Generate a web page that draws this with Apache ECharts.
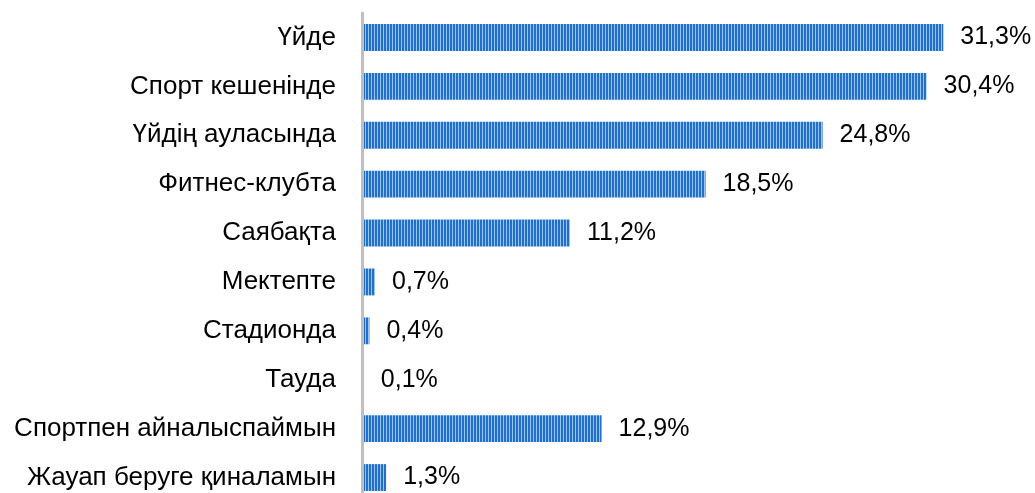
<!DOCTYPE html>
<html>
<head>
<meta charset="utf-8">
<script src="https://cdn.jsdelivr.net/npm/echarts@6/dist/echarts.min.js"></script>
<style>
  html, body { margin: 0; padding: 0; background: #fff; }
  #main { width: 1035px; height: 493px; }
</style>
</head>
<body>
<div id="main"></div>
<script>
const categories = ['Үйде', 'Спорт кешенінде', 'Үйдің ауласында', 'Фитнес-клубта', 'Саябақта',
    'Мектепте', 'Стадионда', 'Тауда', 'Спортпен айналыспаймын', 'Жауап беруге қиналамын'];
const values = [31.3, 30.4, 24.8, 18.5, 11.2, 0.7, 0.4, 0.1, 12.9, 1.3];

// striped fill like the original
const stripe = document.createElement('canvas');
stripe.width = 3;
stripe.height = 1;
const ctx = stripe.getContext('2d');
ctx.fillStyle = '#1f70d0';
ctx.fillRect(0, 0, 2, 1);
ctx.fillStyle = '#9cc4f0';
ctx.fillRect(2, 0, 1, 1);

const myChart = echarts.init(document.getElementById('main'));

const option = {
    animation: false,
    grid: {
        left: 362, top: 13, width: 650, height: 489,
        containLabel: false,
        outerBoundsMode: 'none'
    },
    xAxis: {
        type: 'value',
        min: 0,
        max: 35,
        show: false
    },
    yAxis: {
        type: 'category',
        inverse: true,
        z: 3,
        data: categories,
        axisLine: { lineStyle: { color: '#bfbfbf', width: 3 } },
        axisTick: { show: false },
        axisLabel: {
            margin: 26,
            fontSize: 26,
            color: '#000',
            fontFamily: 'Liberation Sans, Arial, sans-serif'
        }
    },
    series: [
        {
            type: 'bar',
            data: values,
            barCategoryGap: '45%',
            itemStyle: {
                color: { image: stripe, repeat: 'repeat' }
            },
            label: {
                show: true,
                position: 'right',
                distance: 17,
                fontSize: 25,
                color: '#000',
                fontFamily: 'Liberation Sans, Arial, sans-serif',
                formatter: p => String(p.value).replace('.', ',') + '%'
            }
        }
    ]
};

myChart.setOption(option);
</script>
</body>
</html>
